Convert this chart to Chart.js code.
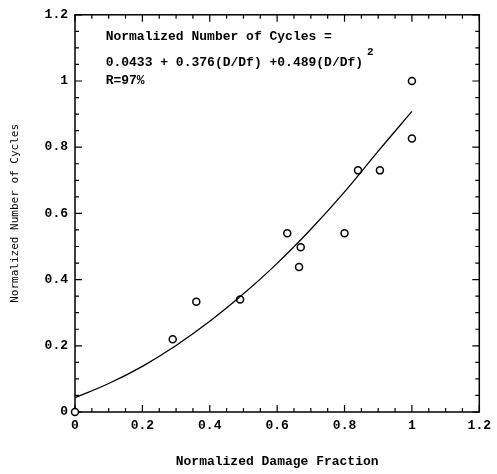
<!DOCTYPE html>
<html>
<head>
<meta charset="utf-8">
<script src="https://cdn.jsdelivr.net/npm/chart.js@4.4.1/dist/chart.umd.min.js"></script>
<style>
  html, body { margin: 0; padding: 0; background: #fff; }
</style>
</head>
<body>
<canvas id="myChart" width="497" height="474"></canvas>
<script>
// measured points
const damageFraction = [0, 0.29, 0.36, 0.49, 0.63, 0.665, 0.67, 0.80, 0.84, 0.905, 1.0, 1.0];
const cycleFraction = [0, 0.22, 0.333, 0.34, 0.54, 0.438, 0.498, 0.54, 0.73, 0.73, 1.0, 0.826];

// fitted curve
const fitX = [0, 0.1, 0.2, 0.3, 0.4, 0.5, 0.6, 0.7, 0.8, 0.9, 1.0];
const fitY = [0.043, 0.086, 0.138, 0.201, 0.274, 0.357, 0.449, 0.552, 0.665, 0.788, 0.908];

const tickValues = [0, 0.2, 0.4, 0.6, 0.8, 1, 1.2];
const tickLabels = ["0", "0.2", "0.4", "0.6", "0.8", "1", "1.2"];
const minorTicks = [0, 0.05, 0.1, 0.15, 0.2, 0.25, 0.3, 0.35, 0.4, 0.45, 0.5, 0.55, 0.6,
  0.65, 0.7, 0.75, 0.8, 0.85, 0.9, 0.95, 1.0, 1.05, 1.1, 1.15, 1.2];

const equationLines = [
  "Normalized Number of Cycles =",
  "0.0433 + 0.376(D/Df) +0.489(D/Df)",
  "R=97%"
];

const monoFont = "'Liberation Mono', 'DejaVu Sans Mono', monospace";

function labelFor(v) {
  const i = tickValues.findIndex(t => Math.abs(t - v) < 1e-6);
  return i < 0 ? "" : tickLabels[i];
}

const frame = {
  id: "frame",
  beforeDatasetsDraw(chart) {
    const { ctx, chartArea: a, scales } = chart;
    ctx.save();
    ctx.strokeStyle = "#000";
    ctx.lineWidth = 1.5;
    ctx.strokeRect(a.left, a.top, a.right - a.left, a.bottom - a.top);
    ctx.lineWidth = 1.2;
    ctx.beginPath();
    minorTicks.forEach(v => {
      const major = tickValues.some(t => Math.abs(t - v) < 1e-6);
      const len = major ? 7 : 4;
      const px = scales.x.getPixelForValue(v);
      const py = scales.y.getPixelForValue(v);
      ctx.moveTo(px, a.bottom); ctx.lineTo(px, a.bottom - len);
      ctx.moveTo(px, a.top); ctx.lineTo(px, a.top + len);
      ctx.moveTo(a.left, py); ctx.lineTo(a.left + len, py);
      ctx.moveTo(a.right, py); ctx.lineTo(a.right - len, py);
    });
    ctx.stroke();
    ctx.restore();
  },
  afterDraw(chart) {
    const { ctx, scales } = chart;
    const x0 = scales.x.getPixelForValue(0.091);
    ctx.save();
    ctx.fillStyle = "#000";
    ctx.font = "bold 13px " + monoFont;
    ctx.textBaseline = "alphabetic";
    ctx.fillText(equationLines[0], x0, 40);
    ctx.fillText(equationLines[1], x0, 66);
    const w = ctx.measureText(equationLines[1]).width;
    ctx.fillText(equationLines[2], x0, 84);
    ctx.font = "bold 11px " + monoFont;
    ctx.fillText("2", x0 + w + 4, 55);
    ctx.restore();
  }
};

const points = damageFraction.map((x, i) => ({ x: x, y: cycleFraction[i] }));
const curve = fitX.map((x, i) => ({ x: x, y: fitY[i] }));

const ctx = document.getElementById("myChart").getContext("2d");
const myChart = new Chart(ctx, {
  type: "scatter",
  data: {
    datasets: [
      {
        label: "fit",
        type: "line",
        data: curve,
        borderColor: "#000",
        borderWidth: 1.3,
        pointRadius: 0,
        tension: 0.4,
        fill: false
      },
      {
        label: "data",
        data: points,
        pointStyle: "circle",
        pointRadius: 3.5,
        borderWidth: 1.5,
        borderColor: "#000",
        backgroundColor: "#fff",
        clip: false
      }
    ]
  },
  options: {
    responsive: false,
    animation: false,
    layout: { padding: { top: 12, right: 14, left: 0, bottom: 0 } },
    plugins: { legend: { display: false }, tooltip: { enabled: false } },
    scales: {
      x: {
        type: "linear",
        min: 0,
        max: 1.2,
        afterFit: s => { s.height = 62; },
        grid: { display: false, drawTicks: false },
        border: { display: false },
        ticks: {
          stepSize: 0.2,
          padding: 6,
          color: "#000",
          font: { family: monoFont, size: 13, weight: "bold" },
          callback: v => labelFor(v)
        },
        title: {
          display: true,
          text: "Normalized Damage Fraction",
          color: "#000",
          font: { family: monoFont, size: 13, weight: "bold" },
          padding: { top: 0, bottom: 4 }
        }
      },
      y: {
        type: "linear",
        min: 0,
        max: 1.2,
        afterFit: s => { s.width = 75; },
        grid: { display: false, drawTicks: false },
        border: { display: false },
        ticks: {
          stepSize: 0.2,
          padding: 7,
          color: "#000",
          font: { family: monoFont, size: 13, weight: "bold" },
          callback: v => labelFor(v)
        },
        title: {
          display: true,
          text: "Normalized Number of Cycles",
          color: "#000",
          font: { family: "'DejaVu Sans Mono', monospace", size: 11, weight: "normal" },
          padding: { top: 9, bottom: 0 }
        }
      }
    }
  },
  plugins: [frame]
});
</script>
</body>
</html>
